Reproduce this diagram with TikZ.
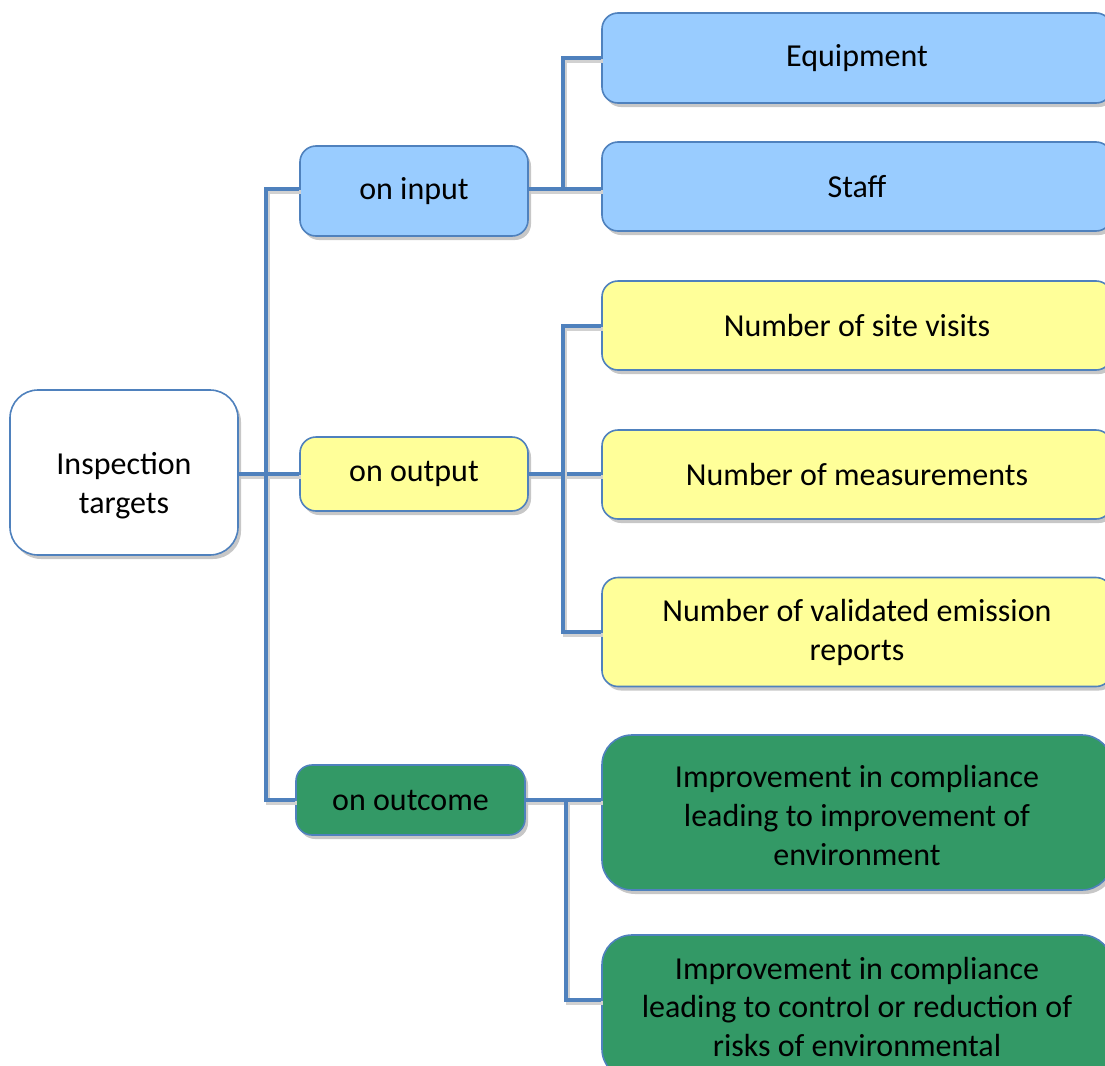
\documentclass[tikz,border=0pt]{standalone}
\usepackage{fontspec}
\setmainfont{Carlito}
\usetikzlibrary{shadows}

\definecolor{linkblue}{HTML}{4F81BD}
\definecolor{inblue}{HTML}{99CCFF}
\definecolor{outyellow}{HTML}{FFFF99}
\definecolor{outcgreen}{HTML}{339966}

\begin{document}
\begin{tikzpicture}[x=0.5pt,y=-0.5pt,
    box/.style={draw=linkblue, line width=0.8pt, rounded corners=8pt, align=center,
        font=\fontsize{16}{19.5}\selectfont, inner sep=0pt,
        drop shadow={shadow xshift=1.5pt, shadow yshift=-2pt, fill=black!22, opacity=1}},
    link/.style={draw=linkblue, line width=2pt,
        preaction={draw=black!18, line width=2pt, transform canvas={shift={(1pt,-1.5pt)}}}}]
    \useasboundingbox (0,0) rectangle (1105,1066);
    \clip (0,0) rectangle (1105,1066);

    % Root
    \node (root) [box, fill=white, rounded corners=14pt, minimum width=114pt, minimum height=82.5pt] at (124,472.5) {\rule{0pt}{24pt}Inspection\\targets};

    % First level
    \node (in) [box, fill=inblue, minimum width=114pt, minimum height=45pt] at (414,191) {on input};
    \node (out) [box, fill=outyellow, minimum width=114pt, minimum height=37pt] at (414,474) {on output};
    \node (outc) [box, fill=outcgreen, minimum width=114.5pt, minimum height=35pt] at (410.5,800) {on outcome};

    % Second level
    \node (equip) [box, fill=inblue, minimum width=255pt, minimum height=45pt] at (857,58) {Equipment};
    \node (staff) [box, fill=inblue, minimum width=255pt, minimum height=44.5pt] at (857,186.5) {Staff};
    \node (visits) [box, fill=outyellow, minimum width=255pt, minimum height=44.5pt] at (857,325.5) {Number of site visits};
    \node (meas) [box, fill=outyellow, minimum width=255pt, minimum height=44.5pt] at (857,474.5) {Number of measurements};
    \node (valid) [box, fill=outyellow, minimum width=255pt, minimum height=54.5pt] at (857,632) {Number of validated emission\\reports};
    \node (imp1) [box, fill=outcgreen, rounded corners=15pt, minimum width=255pt, minimum height=77.5pt] at (857,812.5) {\rule{0pt}{14pt}Improvement in compliance\\leading to improvement of\\environment};
    \node (imp2) [box, fill=outcgreen, rounded corners=15pt, minimum width=255pt, minimum height=72pt] at (857,1007) {Improvement in compliance\\leading to control or reduction of\\risks of environmental};

    % Junctions
    \coordinate (trunk) at (266,474);
    \coordinate (injoin) at (563,189);
    \coordinate (outjoin) at (563,474);
    \coordinate (outcjoin) at (566,800);

    % Connectors
    \draw [link] (root.east |- trunk) -- (trunk);
    \draw [link] (trunk) |- (in.west |- injoin);
    \draw [link] (trunk) -- (out.west |- trunk);
    \draw [link] (trunk) |- (outc.west);

    \draw [link] (in.east |- injoin) -- (injoin) |- (equip.west);
    \draw [link] (injoin) -- (staff.west |- injoin);

    \draw [link] (out.east |- outjoin) -- (outjoin) -- (meas.west |- outjoin);
    \draw [link] (outjoin) |- (visits.west);
    \draw [link] (outjoin) |- (valid.west);

    \draw [link] (outc.east) -- (imp1.west |- outcjoin);
    \draw [link] (outcjoin) |- (imp2.west |- 0,1000);
\end{tikzpicture}
\end{document}
